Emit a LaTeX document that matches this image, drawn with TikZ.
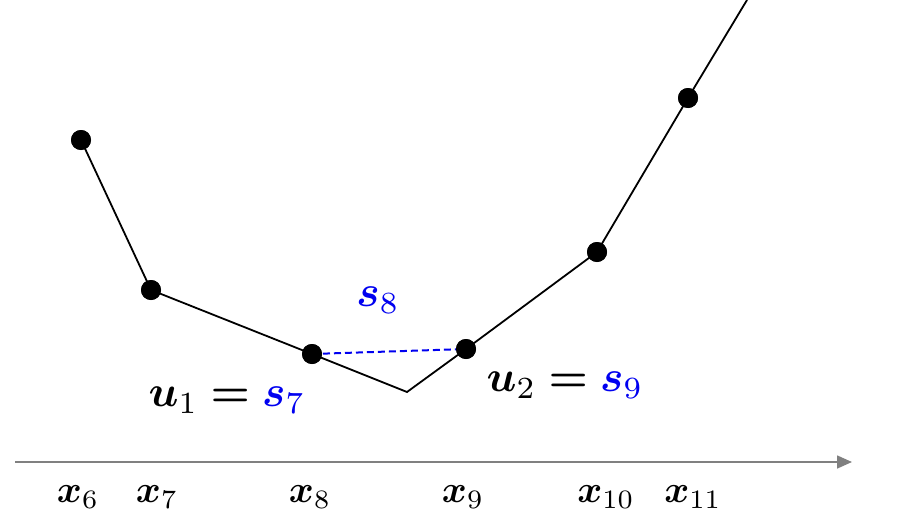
\documentclass[tikz,border=0pt]{standalone}
\usepackage{graphicx}
\usepackage{amsmath}
\usetikzlibrary{arrows.meta}
\definecolor{myblue}{RGB}{0,0,240}
\newcommand{\xlbl}[1]{\scalebox{3.8}{$#1$}}
\newcommand{\slbl}[1]{\scalebox{4.4}{$#1$}}
\newcommand{\bs}[1]{\boldsymbol{#1}}
\tikzset{
  dot/.style={circle,fill=black,inner sep=0pt,minimum size=20pt},
  lbl/.style={inner sep=0pt},
  curve/.style={line width=1.8pt,black},
}
\begin{document}
\begin{tikzpicture}[x=1pt,y=-1pt]
\useasboundingbox (0,0) rectangle (897,530);
% points
\node[dot] (p6) at (81,140) {};
\node[dot] (p7) at (151,290) {};
\node[dot] (p8) at (312,354) {};
\coordinate (v) at (407,392);
\node[dot] (p9) at (466,349) {};
\node[dot] (p10) at (597,252) {};
\node[dot] (p11) at (688,98) {};
\coordinate (top) at (747,0);
\draw[curve] (p6.center) -- (p7.center) -- (p8.center) -- (v) -- (p9.center) -- (p10.center) -- (p11.center) -- (top);
\draw[myblue,line width=2pt,dash pattern=on 7pt off 4pt] (p8.center) -- (p9.center);
\node[dot] at (p6) {};
\node[dot] at (p7) {};
\node[dot] at (p8) {};
\node[dot] at (p9) {};
\node[dot] at (p10) {};
\node[dot] at (p11) {};
% axis
\coordinate (a0) at (15,462);
\coordinate (a1) at (852,462);
\draw[gray,line width=1.6pt,-{Triangle[length=15pt,width=13pt]}] (a0) -- (a1);
% labels
\node[lbl] (x6) at (78,497) {\xlbl{\bs{x}_6}};
\node[lbl] (x7) at (157,497) {\xlbl{\bs{x}_7}};
\node[lbl] (x8) at (310,497) {\xlbl{\bs{x}_8}};
\node[lbl] (x9) at (463,497) {\xlbl{\bs{x}_9}};
\node[lbl] (x10) at (606,497) {\xlbl{\bs{x}_{10}}};
\node[lbl] (x11) at (693,497) {\xlbl{\bs{x}_{11}}};
\node[lbl,text=myblue] (s8) at (378,300) {\slbl{\bs{s}_8}};
\node[lbl] (u1) at (227,400) {\slbl{\bs{u}_1 \bs{=} \textcolor{myblue}{\bs{s}_7}}};
\node[lbl] (u2) at (565,385) {\slbl{\bs{u}_2 \bs{=} \textcolor{myblue}{\bs{s}_9}}};
\end{tikzpicture}
\end{document}
